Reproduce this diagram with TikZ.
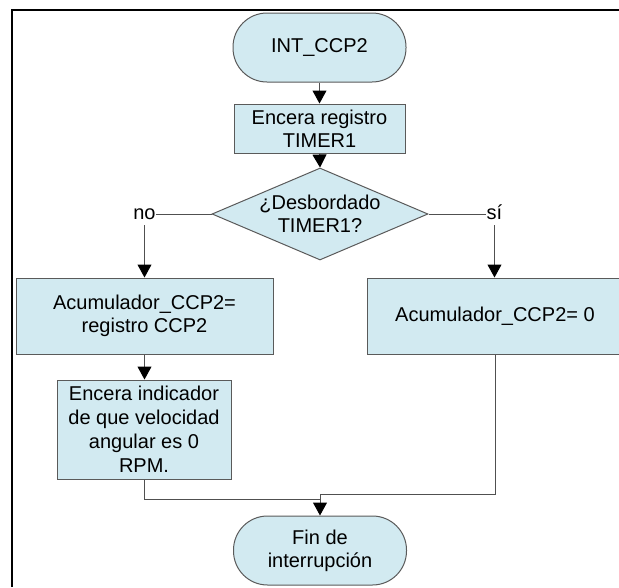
\documentclass[tikz,border=0pt]{standalone}
\usepackage{fontspec}
\setmainfont{Liberation Sans}
\usetikzlibrary{shapes.geometric,arrows.meta}
\definecolor{boxfill}{RGB}{210,234,241}
\definecolor{edgegray}{RGB}{90,90,90}
\definecolor{linegray}{RGB}{80,80,80}
\begin{document}
\begin{tikzpicture}[x=1pt,y=-1pt,
  every node/.style={font=\fontsize{20}{23}\selectfont, align=center},
  flowbox/.style={draw=edgegray, fill=boxfill, line width=1pt, inner sep=0pt},
  term/.style={flowbox, rectangle, rounded corners=34pt, minimum width=173pt, minimum height=69pt},
  proc/.style={flowbox, rectangle},
  decision/.style={flowbox, diamond, aspect=2.3478, minimum width=216pt, minimum height=92pt, inner ysep=-2pt},
  lbl/.style={inner sep=0pt, outer xsep=0.5pt, outer ysep=6pt, text height=10.4pt, text depth=0pt},
  conn/.style={draw=linegray, line width=1pt},
  flow/.style={conn, -{Triangle[length=13pt,width=14pt,color=black]}}
]
\useasboundingbox (0,0) rectangle (619,587);

% page frame (top and left edges)
\draw[line width=2pt] (11.8,587) -- (11.8,10.3) -- (619,10.3);

% flowchart nodes
\node[term] (start) at (319.5,47.5) {INT\_CCP2};
\node[proc, minimum width=171pt, minimum height=49pt] (clr) at (319.5,128.5) {Encera registro\\TIMER1};
\node[decision] (dec) at (320,214) {¿Desbordado\\TIMER1?};
\node[lbl] (no) at (144.5,214) {no};
\node[lbl] (si) at (494.5,214) {sí};
\node[proc, minimum width=257pt, minimum height=76pt] (acc) at (144.5,316) {Acumulador\_CCP2=\\registro CCP2};
\node[proc, minimum width=256pt, minimum height=76pt] (acz) at (495,316) {Acumulador\_CCP2= 0};
\node[proc, minimum width=174pt, minimum height=99pt, font=\fontsize{20}{24}\selectfont] (ind) at (144,429.5) {Encera indicador\\de que velocidad\\angular es 0\\RPM.};
\node[term] (fin) at (320,550.5) {Fin de\\interrupción};
\coordinate (mergeR) at (320,494);
\coordinate (mergeL) at (320,499);

% connectors
\draw[flow] (start.south) -- (clr.north);
\draw[flow] (clr.south) -- (dec.north);
\draw[conn] (dec.west) -- (no.east);
\draw[flow] (no.south) -- (no.south |- acc.north);
\draw[conn] (dec.east) -- (si.west);
\draw[flow] (si.south) -- (si.south |- acz.north);
\draw[flow] (acc.south) -- (acc.south |- ind.north);
\draw[conn] (acz.south) |- (mergeR);
\draw[flow] (mergeR) -- (fin.north);
\draw[conn] (ind.south) |- (mergeL);
\end{tikzpicture}
\end{document}
